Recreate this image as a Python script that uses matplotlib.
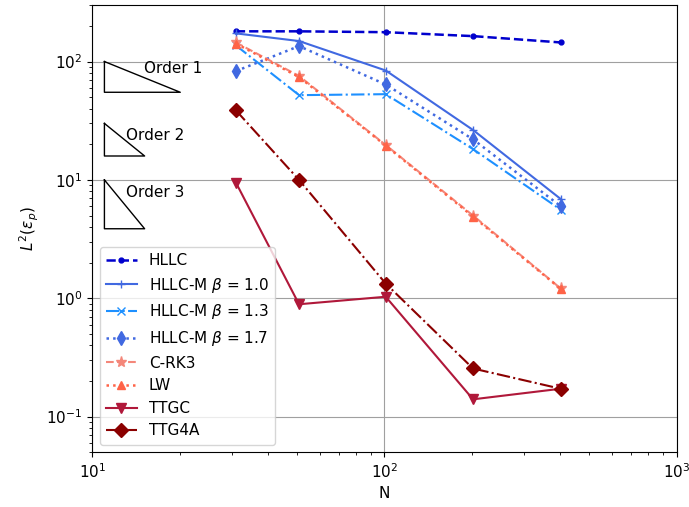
import numpy as np
import matplotlib
matplotlib.use("Agg")
import matplotlib.pyplot as plt

plt.rcParams.update({"font.size": 11})

# ── Dados ─────────────────────────────────────────────────────────────────────
N = [31, 51, 101, 201, 401]

err_hllc = [180, 180, 177, 164, 145]
err_b10 = [173, 149, 84, 26.4, 6.9]
err_b13 = [137, 52, 53, 18.2, 5.6]
err_b17 = [83, 135, 64, 22, 6.0]
err_crk3 = [145, 75.5, 19.7, 5.0, 1.21]
err_lw = [142, 74, 19.5, 4.9, 1.2]
err_ttgc = [9.5, 0.89, 1.03, 0.14, 0.172]
err_ttg4a = [38.7, 10, 1.33, 0.255, 0.172]

# triângulos de ordem: (x0, x1, y topo, ordem)
ordens = [(11, 20, 100, 1), (11, 15.1, 30, 2), (11, 15.1, 10, 3)]
rot_ordens = ["Order 1", "Order 2", "Order 3"]
pos_rot = [(15.0, 88), (13.0, 23.5), (13.0, 7.8)]

# ── Figura ────────────────────────────────────────────────────────────────────
fig = plt.figure(figsize=(6.89, 5.07), dpi=100)
ax = fig.add_axes([0.134, 0.108, 0.848, 0.882])

ax.plot(N, err_hllc, "--", marker=".", color="mediumblue", lw=1.8, ms=7, label="HLLC")
ax.plot(N, err_b10, "-", marker="+", color="royalblue", lw=1.5, ms=6, label=r"HLLC-M $\beta$ = 1.0")
ax.plot(N, err_b13, "-.", marker="x", color="dodgerblue", lw=1.5, ms=6, label=r"HLLC-M $\beta$ = 1.3")
ax.plot(N, err_b17, ":", marker="d", color="royalblue", lw=1.8, ms=7, label=r"HLLC-M $\beta$ = 1.7")
ax.plot(N, err_crk3, "--", marker="*", color="#f4877a", lw=1.5, ms=8, label="C-RK3")
ax.plot(N, err_lw, ":", marker="^", color="tomato", lw=1.8, ms=6, label="LW")
ax.plot(N, err_ttgc, "-", marker="v", color="#b0183a", lw=1.5, ms=7, label="TTGC")
ax.plot(N, err_ttg4a, "-.", marker="D", color="darkred", lw=1.5, ms=7, label="TTG4A")

for (x0, x1, y0, p), txt, (tx, ty) in zip(ordens, rot_ordens, pos_rot):
    y1 = y0 / (x1 / x0) ** p
    ax.plot([x0, x0, x1, x0], [y0, y1, y1, y0], color="k", lw=1)
    ax.text(tx, ty, txt, va="center", ha="left")

ax.set_xscale("log"); ax.set_yscale("log")
ax.set_xlim(10, 1000); ax.set_ylim(0.05, 300)
ax.grid(True, which="major", color="#a0a0a0", lw=0.8)
ax.set_xlabel("N")
ax.set_ylabel(r"$L^2(\epsilon_p)$")
ax.legend(loc="lower left")

fig.savefig("out.png", dpi=100)
